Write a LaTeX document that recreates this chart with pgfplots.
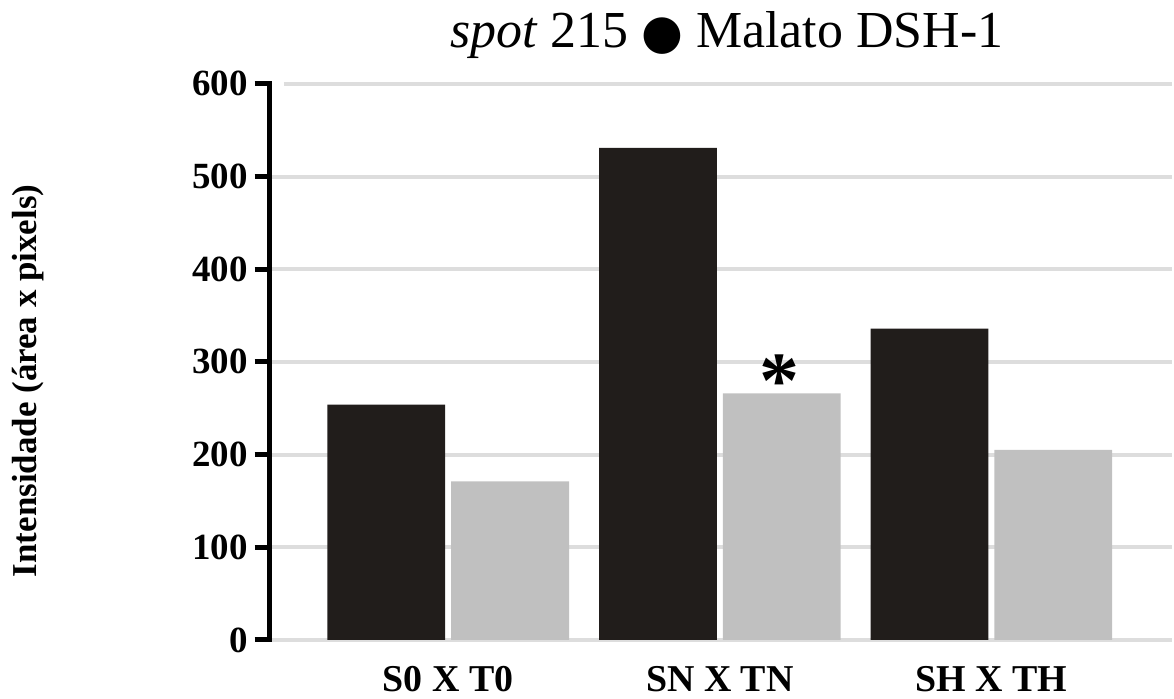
\documentclass[border=0pt]{standalone}
\usepackage{pgfplots}
\pgfplotsset{compat=1.18}
\usepackage{fontspec}
\setmainfont{Liberation Serif}
\newfontfamily\symfont{DejaVu Sans}

\definecolor{barblack}{RGB}{33,29,27}
\definecolor{bargray}{RGB}{192,192,192}
\definecolor{gridgray}{RGB}{221,221,221}

\begin{document}
\begin{tikzpicture}
\begin{axis}[
  scale only axis,
  width=452pt, height=278.5pt,
  xmin=-0.658, xmax=2.665,
  ymin=0, ymax=600,
  axis lines*=left,
  x axis line style={draw=none},
  y axis line style={line width=2.5pt, black, line cap=rect},
  ytick={0,100,...,600},
  xtick={0,1,2},
  xticklabels={S0 X T0, SN X TN, SH X TH},
  xtick style={draw=none},
  ytick style={line width=2.5pt, black, line cap=butt},
  tick align=outside,
  major tick length=7.5pt,
  ymajorgrids,
  major grid style={gridgray, line width=2pt, shorten <=7pt},
  /pgf/number format/assume math mode=true,
  yticklabel style={font=\bfseries\fontsize{18.5}{20}\selectfont},
  xticklabel style={font=\bfseries\fontsize{19}{21}\selectfont, anchor=base, yshift=-18.5pt},
  ylabel={Intensidade (área x pixels)},
  ylabel style={font=\bfseries\fontsize{17.5}{20}\selectfont,
    at={(axis description cs:-0.2677,0.466)}, anchor=center, rotate=0},
  ybar=3pt,
  bar width=59pt,
  clip=false,
]
\addplot[fill=barblack, draw=none] coordinates {(0,254) (1,531) (2,336)};
\addplot[fill=bargray, draw=none] coordinates {(0,171) (1,266) (2,205)};

\node[font=\bfseries\fontsize{40}{40}\selectfont, inner sep=0pt, anchor=center, xshift=30pt]
  at (axis cs:1,279) {*};

\node[font=\fontsize{26}{28}\selectfont, anchor=base, inner sep=0pt]
  at ([yshift=18pt]axis description cs:0.5066,1)
  {\textit{spot} 215 \raisebox{-0.5pt}{\symfont\fontsize{24}{26}\selectfont ●} Malato DSH-1};
\end{axis}
\path ([xshift=-135pt,yshift=-27.5pt]current axis.south west)
  rectangle ([yshift=42pt]current axis.north east);
\end{tikzpicture}
\end{document}
